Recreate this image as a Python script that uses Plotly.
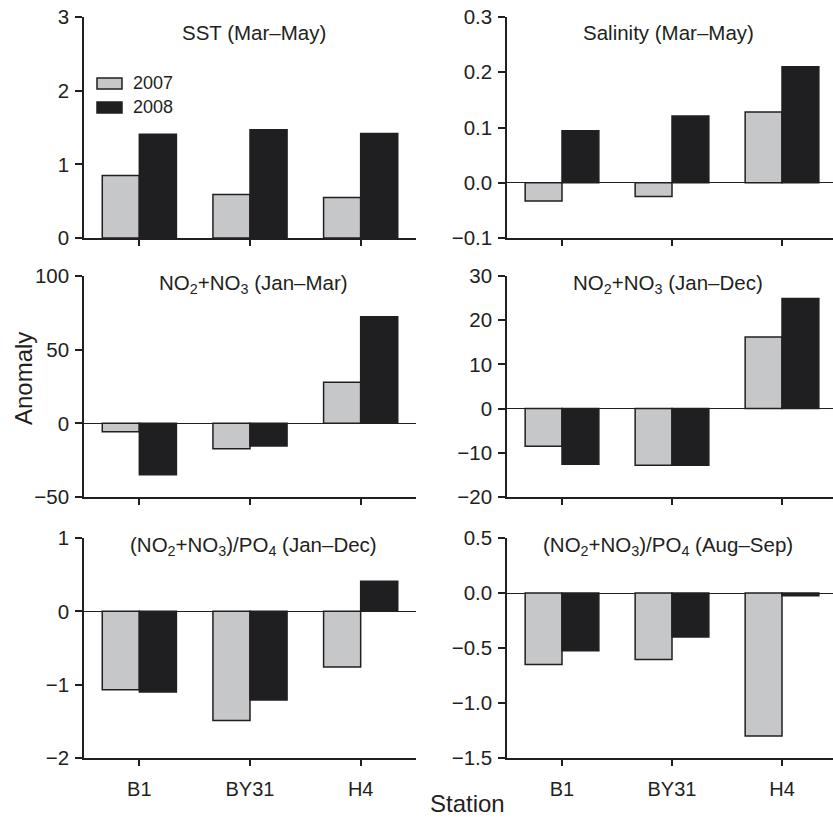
import plotly.graph_objects as go

# ---------------- data ----------------
stations = ["B1", "BY31", "H4"]
years = ["2007", "2008"]

sst_2007 = [0.85, 0.59, 0.55]
sst_2008 = [1.41, 1.47, 1.42]

sal_2007 = [-0.033, -0.025, 0.128]
sal_2008 = [0.094, 0.121, 0.21]

nox_janmar_2007 = [-5.7, -17.2, 27.9]
nox_janmar_2008 = [-34.9, -15.4, 72.3]

nox_jandec_2007 = [-8.5, -12.8, 16.2]
nox_jandec_2008 = [-12.6, -12.8, 24.9]

ratio_jandec_2007 = [-1.07, -1.49, -0.76]
ratio_jandec_2008 = [-1.10, -1.21, 0.41]

ratio_augsep_2007 = [-0.65, -0.605, -1.30]
ratio_augsep_2008 = [-0.526, -0.40, -0.024]

panel_titles = [
    "SST (Mar\u2013May)",
    "Salinity (Mar\u2013May)",
    "NO<sub>2</sub>+NO<sub>3</sub> (Jan\u2013Mar)",
    "NO<sub>2</sub>+NO<sub>3</sub> (Jan\u2013Dec)",
    "(NO<sub>2</sub>+NO<sub>3</sub>)/PO<sub>4</sub> (Jan\u2013Dec)",
    "(NO<sub>2</sub>+NO<sub>3</sub>)/PO<sub>4</sub> (Aug\u2013Sep)",
]

ticks_sst = [0, 1, 2, 3]
ticks_sal = [-0.1, 0.0, 0.1, 0.2, 0.3]
ticks_janmar = [-50, 0, 50, 100]
ticks_jandec = [-20, -10, 0, 10, 20, 30]
ticks_ratio_jandec = [-2, -1, 0, 1]
ticks_ratio_augsep = [-1.5, -1.0, -0.5, 0.0, 0.5]

panels = [
    (sst_2007, sst_2008, ticks_sst, ""),
    (sal_2007, sal_2008, ticks_sal, ".1f"),
    (nox_janmar_2007, nox_janmar_2008, ticks_janmar, ""),
    (nox_jandec_2007, nox_jandec_2008, ticks_jandec, ""),
    (ratio_jandec_2007, ratio_jandec_2008, ticks_ratio_jandec, ""),
    (ratio_augsep_2007, ratio_augsep_2008, ticks_ratio_augsep, ".1f"),
]

# ---------------- styling ----------------
W, H = 833, 818
FONT = "Liberation Sans, Arial, Helvetica, sans-serif"
INK = "#231f20"
C2007 = "#c6c7c9"
C2008 = "#1f1f22"

def px_x(p):
    return p / W

def px_y(p):
    return 1 - p / H

col_dom = [(px_x(84), px_x(416)), (px_x(507), 1.0)]
row_dom = [(px_y(238), px_y(17)), (px_y(497), px_y(276)), (px_y(758), px_y(538))]
x_ranges = [[-0.5, 2.5], [-0.5, -0.5 + 326 / 110.0]]
title_y = [33, 284, 546]
title_x = [254, 668]

fig = go.Figure()
layout = dict(
    width=W, height=H, autosize=False,
    margin=dict(l=0, r=0, t=0, b=0, pad=0),
    paper_bgcolor="white", plot_bgcolor="white",
    barmode="group", bargap=0.33, bargroupgap=0.0,
    showlegend=False,
    font=dict(family=FONT, color=INK, size=20),
)

annotations = []
shapes = []

for i, (v07, v08, tv, fmt) in enumerate(panels):
    r, c = divmod(i, 2)
    n = i + 1
    xa = "x" if n == 1 else f"x{n}"
    ya = "y" if n == 1 else f"y{n}"
    for vals, yr, col in ((v07, years[0], C2007), (v08, years[1], C2008)):
        fig.add_trace(go.Bar(
            x=stations, y=vals, name=yr, xaxis=xa, yaxis=ya,
            marker=dict(color=col, line=dict(color=INK, width=1.5)),
            offsetgroup=yr, hoverinfo="x+y+name",
        ))
    xkey = "xaxis" if n == 1 else f"xaxis{n}"
    ykey = "yaxis" if n == 1 else f"yaxis{n}"
    layout[xkey] = dict(
        domain=list(col_dom[c]), anchor=ya, type="category",
        range=x_ranges[c], showline=True, linecolor=INK, linewidth=1.5,
        ticks="outside", ticklen=6, tickwidth=1.5, tickcolor=INK,
        showgrid=False, zeroline=False, fixedrange=True, automargin=False,
        showticklabels=(r == 2), tickfont=dict(size=20, family=FONT, color=INK),
        ticklabelstandoff=6,
    )
    layout[ykey] = dict(
        domain=list(row_dom[r]), anchor=xa,
        range=[tv[0], tv[-1]], tickvals=tv, tickformat=fmt,
        showline=True, linecolor=INK, linewidth=1.5,
        ticks="outside", ticklen=7, tickwidth=1.5, tickcolor=INK,
        showgrid=False, zeroline=True, zerolinecolor=INK, zerolinewidth=1.2,
        fixedrange=True, automargin=False,
        tickfont=dict(size=20.5, family=FONT, color=INK),
        ticklabelstandoff=2,
    )
    annotations.append(dict(
        text=panel_titles[i], xref="paper", yref="paper",
        x=px_x(title_x[c]), y=px_y(title_y[r]),
        xanchor="center", yanchor="middle", showarrow=False,
        font=dict(size=20.5, family=FONT, color=INK),
    ))

# axis titles
annotations.append(dict(
    text="Anomaly", xref="paper", yref="paper", x=px_x(23), y=px_y(379),
    xanchor="center", yanchor="middle", textangle=-90, showarrow=False,
    font=dict(size=24, family=FONT, color=INK),
))
annotations.append(dict(
    text="Station", xref="paper", yref="paper", x=px_x(467), y=px_y(803),
    xanchor="center", yanchor="middle", showarrow=False,
    font=dict(size=24, family=FONT, color=INK),
))

# legend (drawn manually to match the wide swatches)
legend_rows = [(years[0], C2007, 78, 89), (years[1], C2008, 102, 113)]
for yr, col, top, bot in legend_rows:
    shapes.append(dict(
        type="rect", xref="paper", yref="paper",
        x0=px_x(97), x1=px_x(122), y0=px_y(bot), y1=px_y(top),
        fillcolor=col, line=dict(color=INK, width=1.5),
    ))
    annotations.append(dict(
        text=yr, xref="paper", yref="paper", x=px_x(131), y=px_y((top + bot) / 2),
        xanchor="left", yanchor="middle", showarrow=False,
        font=dict(size=18, family=FONT, color=INK),
    ))

layout["annotations"] = annotations
layout["shapes"] = shapes
fig.update_layout(**layout)

fig.write_html(
    "out.html",
    config={"displayModeBar": False, "staticPlot": False},
    post_script="document.body.style.margin='0';document.body.style.overflow='hidden';",
)
